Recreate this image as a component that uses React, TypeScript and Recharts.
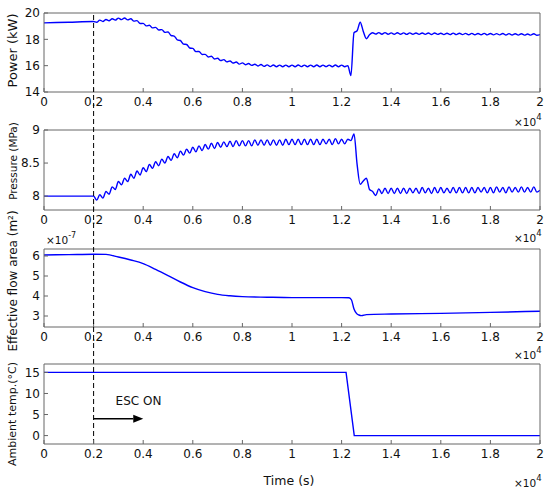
import { LineChart, Line, XAxis, YAxis, ReferenceLine, ReferenceDot } from "recharts";

const W = 550;
const H = 495;
const FONT = "DejaVu Sans";

const xTicks = [0, 2000, 4000, 6000, 8000, 10000, 12000, 14000, 16000, 18000, 20000];

// before ESC is switched on (t < 2000 s)
const preTime = [0, 1000];
const powerPre = [19.25, 19.3];
const pressurePre = [8.0, 8.0];

// sampled every half ripple period after 2000 s
const rippleTime = [
  2000, 2125, 2250, 2375, 2500, 2625, 2750, 2875,
  3000, 3125, 3250, 3375, 3500, 3625, 3750, 3875,
  4000, 4125, 4250, 4375, 4500, 4625, 4750, 4875,
  5000, 5125, 5250, 5375, 5500, 5625, 5750, 5875,
  6000, 6125, 6250, 6375, 6500, 6625, 6750, 6875,
  7000, 7125, 7250, 7375, 7500, 7625, 7750, 7875,
  8000, 8125, 8250, 8375, 8500, 8625, 8750, 8875,
  9000, 9125, 9250, 9375, 9500, 9625, 9750, 9875,
  10000, 10125, 10250, 10375, 10500, 10625, 10750, 10875,
  11000, 11125, 11250, 11375, 11500, 11625, 11750, 11875,
  12000, 12125, 12250, 12375, 12500, 12625, 12750, 12875,
  13000, 13125, 13250, 13375, 13500, 13625, 13750, 13875,
  14000, 14125, 14250, 14375, 14500, 14625, 14750, 14875,
  15000, 15125, 15250, 15375, 15500, 15625, 15750, 15875,
  16000, 16125, 16250, 16375, 16500, 16625, 16750, 16875,
  17000, 17125, 17250, 17375, 17500, 17625, 17750, 17875,
  18000, 18125, 18250, 18375, 18500, 18625, 18750, 18875,
  19000, 19125, 19250, 19375, 19500, 19625, 19750, 19875,
  20000,
];

const powerRipple = [
  19.35, 19.3, 19.46, 19.36, 19.51, 19.41, 19.56, 19.46,
  19.61, 19.5, 19.62, 19.48, 19.56, 19.38, 19.42, 19.2,
  19.21, 19.02, 19.07, 18.87, 18.91, 18.71, 18.74, 18.53,
  18.56, 18.29, 18.25, 17.96, 17.91, 17.64, 17.61, 17.34,
  17.31, 17.07, 17.08, 16.85, 16.86, 16.66, 16.71, 16.51,
  16.56, 16.39, 16.46, 16.29, 16.36, 16.2, 16.28, 16.12,
  16.21, 16.07, 16.16, 16.02, 16.11, 15.98, 16.09, 15.95,
  16.06, 15.93, 16.05, 15.92, 16.04, 15.92, 16.04, 15.92,
  16.04, 15.92, 16.05, 15.93, 16.04, 15.92, 16.04, 15.92,
  16.05, 15.92, 16.04, 15.93, 16.04, 15.92, 16.05, 15.92,
  16.04, 15.92, 16.0, 15.25, 18.5, 18.65, 19.3, 18.6,
  18.05, 18.35, 18.5, 18.4, 18.51, 18.39, 18.51, 18.39,
  18.49, 18.39, 18.5, 18.39, 18.49, 18.38, 18.49, 18.39,
  18.48, 18.38, 18.48, 18.38, 18.48, 18.37, 18.48, 18.38,
  18.46, 18.36, 18.46, 18.36, 18.47, 18.36, 18.46, 18.36,
  18.45, 18.35, 18.45, 18.35, 18.44, 18.35, 18.45, 18.34,
  18.44, 18.34, 18.43, 18.34, 18.44, 18.33, 18.43, 18.33,
  18.42, 18.32, 18.42, 18.32, 18.41, 18.32, 18.42, 18.31,
  18.36,
];

const pressureRipple = [
  8.0, 7.94, 8.02, 7.97, 8.07, 8.03, 8.14, 8.1,
  8.22, 8.17, 8.27, 8.22, 8.33, 8.27, 8.38, 8.32,
  8.43, 8.37, 8.48, 8.42, 8.52, 8.46, 8.56, 8.5,
  8.6, 8.54, 8.64, 8.58, 8.68, 8.62, 8.71, 8.65,
  8.74, 8.67, 8.76, 8.69, 8.78, 8.71, 8.8, 8.72,
  8.81, 8.74, 8.82, 8.75, 8.83, 8.75, 8.84, 8.76,
  8.84, 8.76, 8.84, 8.76, 8.85, 8.77, 8.85, 8.77,
  8.85, 8.77, 8.85, 8.77, 8.85, 8.77, 8.86, 8.78,
  8.86, 8.78, 8.86, 8.78, 8.86, 8.78, 8.86, 8.78,
  8.86, 8.78, 8.86, 8.79, 8.86, 8.78, 8.87, 8.79,
  8.86, 8.79, 8.86, 8.84, 8.94, 8.48, 8.18, 8.23,
  8.27, 8.1, 8.07, 8.01, 8.11, 8.04, 8.12, 8.04,
  8.12, 8.04, 8.12, 8.04, 8.12, 8.04, 8.12, 8.05,
  8.12, 8.04, 8.13, 8.05, 8.12, 8.04, 8.13, 8.05,
  8.13, 8.05, 8.12, 8.05, 8.13, 8.05, 8.13, 8.05,
  8.13, 8.05, 8.13, 8.05, 8.13, 8.06, 8.13, 8.05,
  8.13, 8.05, 8.14, 8.06, 8.13, 8.05, 8.14, 8.06,
  8.13, 8.06, 8.14, 8.06, 8.13, 8.06, 8.14, 8.06,
  8.09,
];

// effective flow area, x1e-7 m^2
const areaTime = [
  0, 1000, 2000, 2500, 3000, 3500, 4000, 4500, 5000, 5500, 6000, 6500, 7000, 7500,
  8000, 9000, 10000, 11000, 12000, 12300, 12400, 12500, 12600, 12700, 12800, 13000,
  14000, 16000, 18000, 20000,
];
const areaValue = [
  6.05, 6.07, 6.09, 6.08, 5.95, 5.8, 5.62, 5.33, 5.02, 4.7, 4.42, 4.22, 4.08, 4.01,
  3.97, 3.94, 3.92, 3.92, 3.92, 3.91, 3.8, 3.35, 3.13, 3.05, 3.02, 3.07,
  3.1, 3.13, 3.18, 3.24,
];

const tempTime = [0, 12180, 12510, 20000];
const tempValue = [15, 15, 0, 0];

const powerData = [
  ...preTime.map((t, i) => ({ t, v: powerPre[i] })),
  ...rippleTime.map((t, i) => ({ t, v: powerRipple[i] })),
];
const pressureData = [
  ...preTime.map((t, i) => ({ t, v: pressurePre[i] })),
  ...rippleTime.map((t, i) => ({ t, v: pressureRipple[i] })),
];
const areaData = areaTime.map((t, i) => ({ t, v: areaValue[i] }));
const tempData = tempTime.map((t, i) => ({ t, v: tempValue[i] }));

const tempDomain = [-2, 17];
const PANELS = [
  { top: 13, bottom: 92 },
  { top: 130, bottom: 210 },
  { top: 249, bottom: 327 },
  { top: 364, bottom: 444 },
];

// the ESC switch-on line runs from the top panel down to the bottom one
const dashTop =
  tempDomain[1] +
  ((PANELS[3].top - PANELS[0].top) / (PANELS[3].bottom - PANELS[3].top)) *
    (tempDomain[1] - tempDomain[0]);

const yLabel = (text: string, size: number, shift: number, exp?: string) => (props: any) => {
  const { x, y, height } = props.viewBox;
  const cx = x + 12.5;
  const cy = y + height / 2 + shift;
  return (
    <g>
      <text
        x={cx}
        y={cy}
        transform={`rotate(-90 ${cx} ${cy})`}
        textAnchor="middle"
        dominantBaseline="central"
        fontSize={size}
        fontFamily={FONT}
        fill="#111"
      >
        {text}
      </text>
      {exp && (
        <text x={x + 46} y={y - 5} fontSize={10.5} fontFamily={FONT} fill="#111">
          ×10
          <tspan dy={-6} fontSize={8}>
            {exp}
          </tspan>
        </text>
      )}
    </g>
  );
};

const xLabel = (dy: number, title?: string) => (props: any) => {
  const { x, y, width } = props.viewBox;
  return (
    <g>
      {title && (
        <text
          x={x + width / 2 - 3}
          y={y + 36}
          textAnchor="middle"
          dominantBaseline="central"
          fontSize={12.5}
          fontFamily={FONT}
          fill="#111"
        >
          {title}
        </text>
      )}
      <text x={x + width - 26} y={y + dy} fontSize={10.5} fontFamily={FONT} fill="#111">
        ×10
        <tspan dy={-6} fontSize={8.5}>
          4
        </tspan>
      </text>
    </g>
  );
};

const tickStyle = { fontSize: 12, fill: "#111", fontFamily: FONT };

const Panel = ({ top, bottom, data, yDomain, yTicks, yLab, xLab, curve, children }: any) => (
  <div style={{ position: "absolute", left: 0, top: 0 }}>
    <LineChart
      width={W}
      height={H}
      margin={{ top: top - 1, right: 9, bottom: H - bottom - 20, left: 0 }}
    >
      <XAxis
        xAxisId="b"
        dataKey="t"
        type="number"
        domain={[0, 20000]}
        ticks={xTicks}
        interval={0}
        allowDataOverflow
        tickFormatter={(v: number) => String(v / 10000)}
        tickSize={-4}
        tickMargin={9.5}
        height={20}
        stroke="#666"
        tick={tickStyle}
        label={xLab}
      />
      <XAxis
        xAxisId="t"
        dataKey="t"
        orientation="top"
        type="number"
        domain={[0, 20000]}
        ticks={xTicks}
        interval={0}
        allowDataOverflow
        height={1}
        tick={false}
        tickSize={-4}
        stroke="#666"
      />
      <YAxis
        yAxisId="l"
        type="number"
        domain={yDomain}
        ticks={yTicks}
        interval={0}
        allowDataOverflow
        width={44}
        tickSize={-4}
        tickMargin={8}
        stroke="#666"
        tick={tickStyle}
        label={yLab}
      />
      <YAxis
        yAxisId="r"
        orientation="right"
        type="number"
        domain={yDomain}
        ticks={yTicks}
        interval={0}
        allowDataOverflow
        width={1}
        tick={false}
        tickSize={-4}
        stroke="#666"
      />
      {/* invisible copy so the mirrored box axes get a data source */}
      <Line
        xAxisId="t"
        yAxisId="r"
        data={data}
        dataKey="v"
        stroke="none"
        dot={false}
        activeDot={false}
        isAnimationActive={false}
      />
      <Line
        xAxisId="b"
        yAxisId="l"
        data={data}
        dataKey="v"
        type={curve || "linear"}
        stroke="#0000ff"
        strokeWidth={1.4}
        dot={false}
        isAnimationActive={false}
      />
      {children}
    </LineChart>
  </div>
);

export default function App() {
  return (
    <div style={{ position: "absolute", left: 0, top: 0, width: W, height: H, background: "#fff" }}>
      <Panel
        {...PANELS[0]}
        data={powerData}
        curve="monotone"
        yDomain={[14, 20]}
        yTicks={[14, 16, 18, 20]}
        yLab={yLabel("Power (kW)", 13, -2)}
        xLab={xLabel(34)}
      />
      <Panel
        {...PANELS[1]}
        data={pressureData}
        curve="monotone"
        yDomain={[7.79, 9]}
        yTicks={[8, 8.5, 9]}
        yLab={yLabel("Pressure (MPa)", 10.5, -9)}
        xLab={xLabel(32)}
      />
      <Panel
        {...PANELS[2]}
        data={areaData}
        curve="monotone"
        yDomain={[2.45, 6.35]}
        yTicks={[3, 4, 5, 6]}
        yLab={yLabel("Effective flow area (m²)", 12, -7, "-7")}
        xLab={xLabel(32)}
      />
      <Panel
        {...PANELS[3]}
        data={tempData}
        yDomain={tempDomain}
        yTicks={[0, 5, 10, 15]}
        yLab={yLabel("Ambient temp.(°C)", 11, 10)}
        xLab={xLabel(43, "Time (s)")}
      >
        <ReferenceLine
          xAxisId="b"
          yAxisId="l"
          segment={[
            { x: 2000, y: tempDomain[0] },
            { x: 2000, y: dashTop },
          ]}
          ifOverflow="visible"
          stroke="#000"
          strokeWidth={1}
          strokeDasharray="5 3"
        />
        <ReferenceLine
          xAxisId="b"
          yAxisId="l"
          segment={[
            { x: 2000, y: 4 },
            { x: 3600, y: 4 },
          ]}
          stroke="#000"
          strokeWidth={1.5}
        />
        <ReferenceDot
          xAxisId="b"
          yAxisId="l"
          x={3600}
          y={4}
          r={1}
          shape={(p: any) => (
            <polygon
              points={`${p.cx},${p.cy - 4} ${p.cx + 10},${p.cy} ${p.cx},${p.cy + 4}`}
              fill="#000"
            />
          )}
        />
        <ReferenceDot
          xAxisId="b"
          yAxisId="l"
          x={3810}
          y={8.1}
          r={1}
          shape={(p: any) => (
            <text
              x={p.cx}
              y={p.cy}
              textAnchor="middle"
              dominantBaseline="central"
              fontSize={12}
              fontFamily={FONT}
              fill="#111"
            >
              ESC ON
            </text>
          )}
        />
      </Panel>
    </div>
  );
}
